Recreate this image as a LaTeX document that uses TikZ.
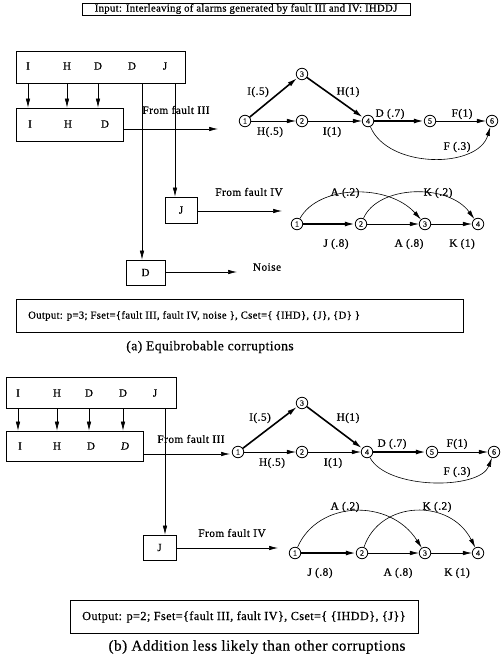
\documentclass[tikz,border=0pt]{standalone}
\usepackage{fontspec}
\setmainfont[LetterSpace=3,FakeBold=0.6]{Liberation Serif}
\newfontfamily\lblfont[LetterSpace=4,FakeBold=0.6]{Liberation Serif}
\usetikzlibrary{arrows.meta}
\begin{document}
\begin{tikzpicture}[x=1pt,y=-1pt,
  box/.style={draw, line width=0.7pt, rectangle, inner sep=0pt},
  txt/.style={inner sep=0pt, font=\fontsize{10.7}{12}\selectfont},
  ltr/.style={inner sep=0pt, font=\fontsize{11}{12}\selectfont},
  lab/.style={inner sep=0pt, font=\lblfont\fontsize{11.3}{12}\selectfont},
  st/.style={circle, draw, line width=0.8pt, minimum size=11.5pt, inner sep=0pt, font=\fontsize{8}{8}\selectfont},
  arr/.style={-{Latex[length=9pt,width=4.5pt]}, line width=0.6pt},
  thk/.style={-{Latex[length=10pt,width=5pt]}, line width=1.6pt},
  thn/.style={-{Latex[length=9pt,width=4.5pt]}, line width=0.6pt},
]
\useasboundingbox (0,0) rectangle (501,660);
% ---------- title ----------
\node[box, minimum width=328pt, minimum height=12pt, txt] (title) at (246,9) {Input: Interleaving of alarms generated by fault III and IV: IHDDJ};

% ================= part (a) =================
\node[box, minimum width=169pt, minimum height=32pt] (inA) at (100.5,67) {};
\node[ltr] (aI) at (28,66) {I};
\node[ltr] (aH) at (67,66) {H};
\node[ltr] (aD) at (98,66) {D};
\node[ltr] (aD2) at (132,66) {D};
\node[ltr] (aJ) at (165,66) {J};
\node[box, minimum width=107pt, minimum height=33pt] (midA) at (69.5,124.5) {};
\node[ltr] (mI) at (30,124) {I};
\node[ltr] (mH) at (68,124) {H};
\node[ltr] (mD) at (105,124) {D};
\draw[arr] (aI |- inA.south) -- (aI |- midA.north);
\draw[arr] (aH |- inA.south) -- (aH |- midA.north);
\draw[arr] (aD |- inA.south) -- (aD |- midA.north);
\node[box, minimum width=32pt, minimum height=26pt] (jA) at (181,210) {};
\node[ltr] at (jA) {J};
\node[box, minimum width=39pt, minimum height=25pt] (dA) at (145.5,272.5) {};
\node[ltr] at (dA) {D};
\coordinate (xDa) at (142,0);
\coordinate (xJa) at (175,0);
\draw[arr] (inA.south -| xDa) -- (xDa |- dA.north);
\draw[arr] (inA.south -| xJa) -- (xJa |- jA.north);
\node[lab] (f3a) at (176,110) {From fault III};
\coordinate (e3a) at (218,129);
\draw[arr] (midA.east |- e3a) -- (e3a);
\node[lab] (f4a) at (249,192) {From fault IV};
\coordinate (e4a) at (282,211);
\draw[arr] (jA.east |- e4a) -- (e4a);
\node[lab] (noise) at (267,267) {Noise};
\coordinate (ena) at (237,272);
\draw[arr] (dA.east |- ena) -- (ena);

% graph fault III (a)
\node[st] (a1) at (245,121) {1};
\node[st] (a3) at (302,74) {3};
\node[st] (a2) at (302,121) {2};
\node[st] (a4) at (368,121) {4};
\node[st] (a5) at (430,121) {5};
\node[st] (a6) at (492,121) {6};
\draw[thk] (a1) -- (a3);
\draw[thk] (a3) -- (a4);
\draw[thn] (a1) -- (a2);
\draw[thn] (a2) -- (a4);
\draw[thk] (a4) -- (a5);
\draw[thn] (a5) -- (a6);
\draw[thn] (a4) .. controls (388,169) and (478,169) .. (a6);
\node[lab] at (258,92) {I(.5)};
\node[lab] at (348,92) {H(1)};
\node[lab] at (270,132) {H(.5)};
\node[lab] at (332,132) {I(1)};
\node[lab] at (390,114) {D (.7)};
\node[lab] at (462,114) {F(1)};
\node[lab] at (457,147) {F (.3)};

% graph fault IV (a)
\node[st] (b1) at (297,224) {1};
\node[st] (b2) at (361,224) {2};
\node[st] (b3) at (425,224) {3};
\node[st] (b4) at (478,224) {4};
\draw[thk] (b1) -- (b2);
\draw[thn] (b2) -- (b3);
\draw[thn] (b3) -- (b4);
\draw[thn] (b1) .. controls (318,185) and (388,183) .. (b3);
\draw[thn] (b2) .. controls (378,185) and (448,183) .. (b4);
\node[lab] at (336,244) {J (.8)};
\node[lab] at (409,244) {A (.8)};
\node[lab] at (462,244) {K (1)};
\node[lab] at (345,193) {A (.2)};
\node[lab] at (438,193) {K (.2)};

\node[box, minimum width=447pt, minimum height=33pt] (outA) at (239.5,315.5) {};
\node[txt, anchor=west] (outAt) at (28,316) {Output: p=3; Fset=\{fault III, fault IV, noise \}, Cset=\{ \{IHD\}, \{J\}, \{D\} \}};
\node[txt, font=\fontsize{13.6}{14}\selectfont] (capA) at (210,347) {(a) Equibrobable corruptions};

% ================= part (b) =================
\node[box, minimum width=170pt, minimum height=31pt] (inB) at (91,392.5) {};
\node[ltr] (bI) at (18,393) {I};
\node[ltr] (bH) at (57,393) {H};
\node[ltr] (bD) at (89,393) {D};
\node[ltr] (bD2) at (123,393) {D};
\node[ltr] (bJ) at (155,393) {J};
\node[box, minimum width=137pt, minimum height=30pt] (midB) at (74.5,446) {};
\node[ltr] (nI) at (20,446) {I};
\node[ltr] (nH) at (57,446) {H};
\node[ltr] (nD) at (91,446) {D};
\node[ltr] (nD2) at (125,446) {\itshape D};
\draw[arr] (bI |- inB.south) -- (bI |- midB.north);
\draw[arr] (bH |- inB.south) -- (bH |- midB.north);
\draw[arr] (bD |- inB.south) -- (bD |- midB.north);
\draw[arr] (bD2 |- inB.south) -- (bD2 |- midB.north);
\node[box, minimum width=33pt, minimum height=25pt] (jB) at (159.5,547.5) {};
\node[ltr] at (jB) {J};
\coordinate (xJb) at (165,0);
\draw[arr] (inB.south -| xJb) -- (xJb |- jB.north);
\node[lab] (f3b) at (191,439) {From fault III};
\coordinate (e3b) at (230,454);
\draw[arr] (midB.east |- e3b) -- (e3b);
\node[lab] (f4b) at (232,533) {From fault IV};
\coordinate (e4b) at (278,548);
\draw[arr] (jB.east |- e4b) -- (e4b);

% graph fault III (b)
\node[st] (c1) at (238,452) {1};
\node[st] (c3) at (302,403) {3};
\node[st] (c2) at (302,452) {2};
\node[st] (c4) at (367,452) {4};
\node[st] (c5) at (432,452) {5};
\node[st] (c6) at (494,452) {6};
\draw[thk] (c1) -- (c3);
\draw[thk] (c3) -- (c4);
\draw[thn] (c1) -- (c2);
\draw[thn] (c2) -- (c4);
\draw[thk] (c4) -- (c5);
\draw[thn] (c5) -- (c6);
\draw[thn] (c4) .. controls (387,490) and (480,490) .. (c6);
\node[lab] at (260,418) {I(.5)};
\node[lab] at (348,418) {H(1)};
\node[lab] at (272,463) {H(.5)};
\node[lab] at (333,463) {I(1)};
\node[lab] at (392,444) {D (.7)};
\node[lab] at (457,444) {F(1)};
\node[lab] at (457,472) {F (.3)};

% graph fault IV (b)
\node[st] (d1) at (295,553) {1};
\node[st] (d2) at (362,553) {2};
\node[st] (d3) at (425,553) {3};
\node[st] (d4) at (478,553) {4};
\draw[thk] (d1) -- (d2);
\draw[thn] (d2) -- (d3);
\draw[thn] (d3) -- (d4);
\draw[thn] (d1) .. controls (318,500) and (390,498) .. (d3);
\draw[thn] (d2) .. controls (380,500) and (450,498) .. (d4);
\node[lab] at (320,573) {J (.8)};
\node[lab] at (398,573) {A (.8)};
\node[lab] at (457,573) {K (1)};
\node[lab] at (345,507) {A (.2)};
\node[lab] at (437,507) {K (.2)};

\node[box, minimum width=348pt, minimum height=33pt] (outB) at (244,616.5) {};
\node[txt, anchor=west, font=\fontsize{12.3}{13}\selectfont] (outBt) at (82,617) {Output: p=2; Fset=\{fault III, fault IV\}, Cset=\{ \{IHDD\}, \{J\}\}};
\node[txt, font=\fontsize{15.2}{16}\selectfont] (capB) at (257,647) {(b) Addition less likely than other corruptions};
\end{tikzpicture}
\end{document}
